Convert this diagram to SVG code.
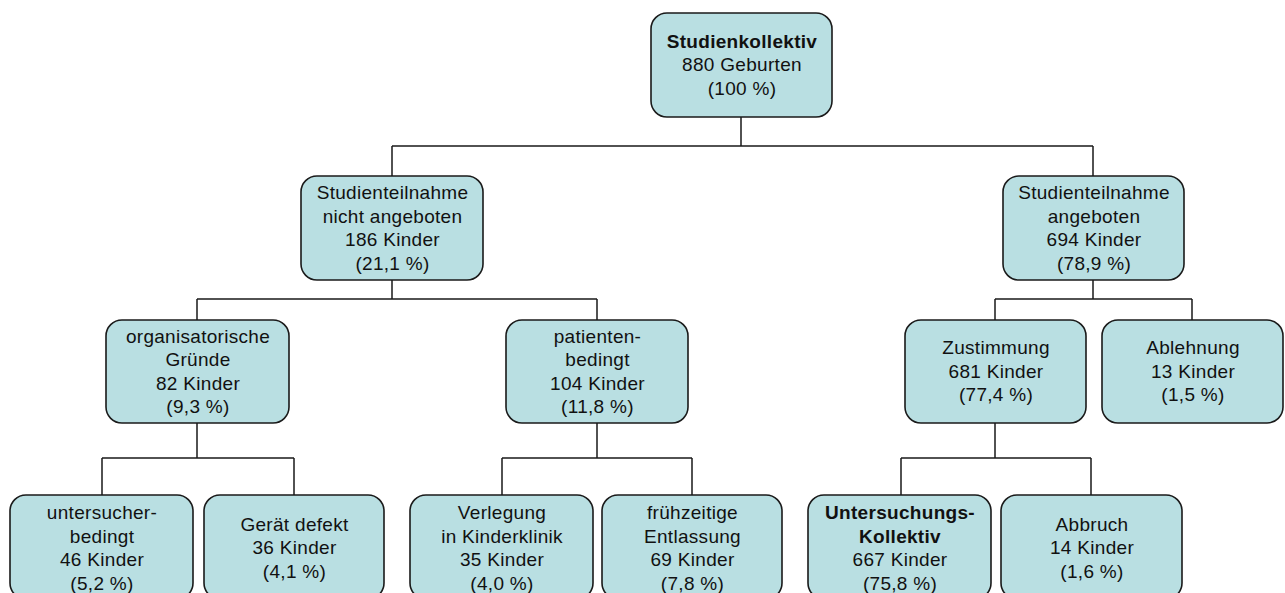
<svg xmlns="http://www.w3.org/2000/svg" width="1285" height="593" viewBox="0 0 1285 593">
<style>
  .box{fill:#B9DFE2;stroke:#1a1a1a;stroke-width:1.6}
  .t{font-family:"Liberation Sans",Arial,sans-serif;font-size:19px;letter-spacing:0.3px;fill:#111;text-anchor:middle}
  .b{font-weight:bold}
  .c{fill:none;stroke:#1a1a1a;stroke-width:1.5}
</style>
<rect width="1285" height="593" fill="#fff"/>
<g id="connectors" class="c">
  <path d="M741 117V146M392 146H1093M392 146V176M1093 146V176"/>
  <path d="M392 280V299M197 299H597M197 299V320M597 299V320"/>
  <path d="M1093 280V299M995 299H1192M995 299V320M1192 299V320"/>
  <path d="M197 423V458M102 458H294M102 458V495M294 458V495"/>
  <path d="M597 423V458M502 458H692M502 458V495M692 458V495"/>
  <path d="M995 423V458M901 458H1091M901 458V495M1091 458V495"/>
</g>
<g id="n-studienkollektiv">
  <rect class="box" x="651" y="13" width="181" height="104" rx="16"/>
  <text class="t b" x="742" y="47.5">Studienkollektiv</text>
  <text class="t" x="742" y="71">880 Geburten</text>
  <text class="t" x="742" y="94.5">(100 %)</text>
</g>
<g id="n-nicht-angeboten">
  <rect class="box" x="301" y="176" width="182" height="104" rx="16"/>
  <text class="t" x="392.5" y="199">Studienteilnahme</text>
  <text class="t" x="392.5" y="222.5">nicht angeboten</text>
  <text class="t" x="392.5" y="246">186 Kinder</text>
  <text class="t" x="392.5" y="269.5">(21,1 %)</text>
</g>
<g id="n-angeboten">
  <rect class="box" x="1003" y="176" width="181" height="104" rx="16"/>
  <text class="t" x="1094" y="199">Studienteilnahme</text>
  <text class="t" x="1094" y="222.5">angeboten</text>
  <text class="t" x="1094" y="246">694 Kinder</text>
  <text class="t" x="1094" y="269.5">(78,9 %)</text>
</g>
<g id="n-organisatorisch">
  <rect class="box" x="106" y="320" width="183" height="103" rx="16"/>
  <text class="t" x="198" y="342.5">organisatorische</text>
  <text class="t" x="198" y="366">Gründe</text>
  <text class="t" x="198" y="389.5">82 Kinder</text>
  <text class="t" x="198" y="413">(9,3 %)</text>
</g>
<g id="n-patientenbedingt">
  <rect class="box" x="506" y="320" width="182" height="103" rx="16"/>
  <text class="t" x="597.5" y="342.5">patienten-</text>
  <text class="t" x="597.5" y="366">bedingt</text>
  <text class="t" x="597.5" y="389.5">104 Kinder</text>
  <text class="t" x="597.5" y="413">(11,8 %)</text>
</g>
<g id="n-zustimmung">
  <rect class="box" x="905" y="320" width="181" height="103" rx="16"/>
  <text class="t" x="996" y="354">Zustimmung</text>
  <text class="t" x="996" y="377.5">681 Kinder</text>
  <text class="t" x="996" y="401">(77,4 %)</text>
</g>
<g id="n-ablehnung">
  <rect class="box" x="1102" y="320" width="181" height="103" rx="16"/>
  <text class="t" x="1193" y="354">Ablehnung</text>
  <text class="t" x="1193" y="377.5">13 Kinder</text>
  <text class="t" x="1193" y="401">(1,5 %)</text>
</g>
<g id="n-untersucherbedingt">
  <rect class="box" x="10" y="495" width="183" height="104" rx="16"/>
  <text class="t" x="102" y="519">untersucher-</text>
  <text class="t" x="102" y="542.5">bedingt</text>
  <text class="t" x="102" y="566">46 Kinder</text>
  <text class="t" x="102" y="589.5">(5,2 %)</text>
</g>
<g id="n-geraet-defekt">
  <rect class="box" x="204" y="495" width="180" height="104" rx="16"/>
  <text class="t" x="294.5" y="530.5">Gerät defekt</text>
  <text class="t" x="294.5" y="554">36 Kinder</text>
  <text class="t" x="294.5" y="577.5">(4,1 %)</text>
</g>
<g id="n-verlegung">
  <rect class="box" x="410" y="495" width="183" height="104" rx="16"/>
  <text class="t" x="502" y="519">Verlegung</text>
  <text class="t" x="502" y="542.5">in Kinderklinik</text>
  <text class="t" x="502" y="566">35 Kinder</text>
  <text class="t" x="502" y="589.5">(4,0 %)</text>
</g>
<g id="n-entlassung">
  <rect class="box" x="602" y="495" width="180" height="104" rx="16"/>
  <text class="t" x="692.5" y="519">frühzeitige</text>
  <text class="t" x="692.5" y="542.5">Entlassung</text>
  <text class="t" x="692.5" y="566">69 Kinder</text>
  <text class="t" x="692.5" y="589.5">(7,8 %)</text>
</g>
<g id="n-untersuchungskollektiv">
  <rect class="box" x="808" y="495" width="183" height="104" rx="16"/>
  <text class="t b" x="900" y="519">Untersuchungs-</text>
  <text class="t b" x="900" y="542.5">Kollektiv</text>
  <text class="t" x="900" y="566">667 Kinder</text>
  <text class="t" x="900" y="589.5">(75,8 %)</text>
</g>
<g id="n-abbruch">
  <rect class="box" x="1001" y="495" width="181" height="104" rx="16"/>
  <text class="t" x="1092" y="530.5">Abbruch</text>
  <text class="t" x="1092" y="554">14 Kinder</text>
  <text class="t" x="1092" y="577.5">(1,6 %)</text>
</g>
</svg>
